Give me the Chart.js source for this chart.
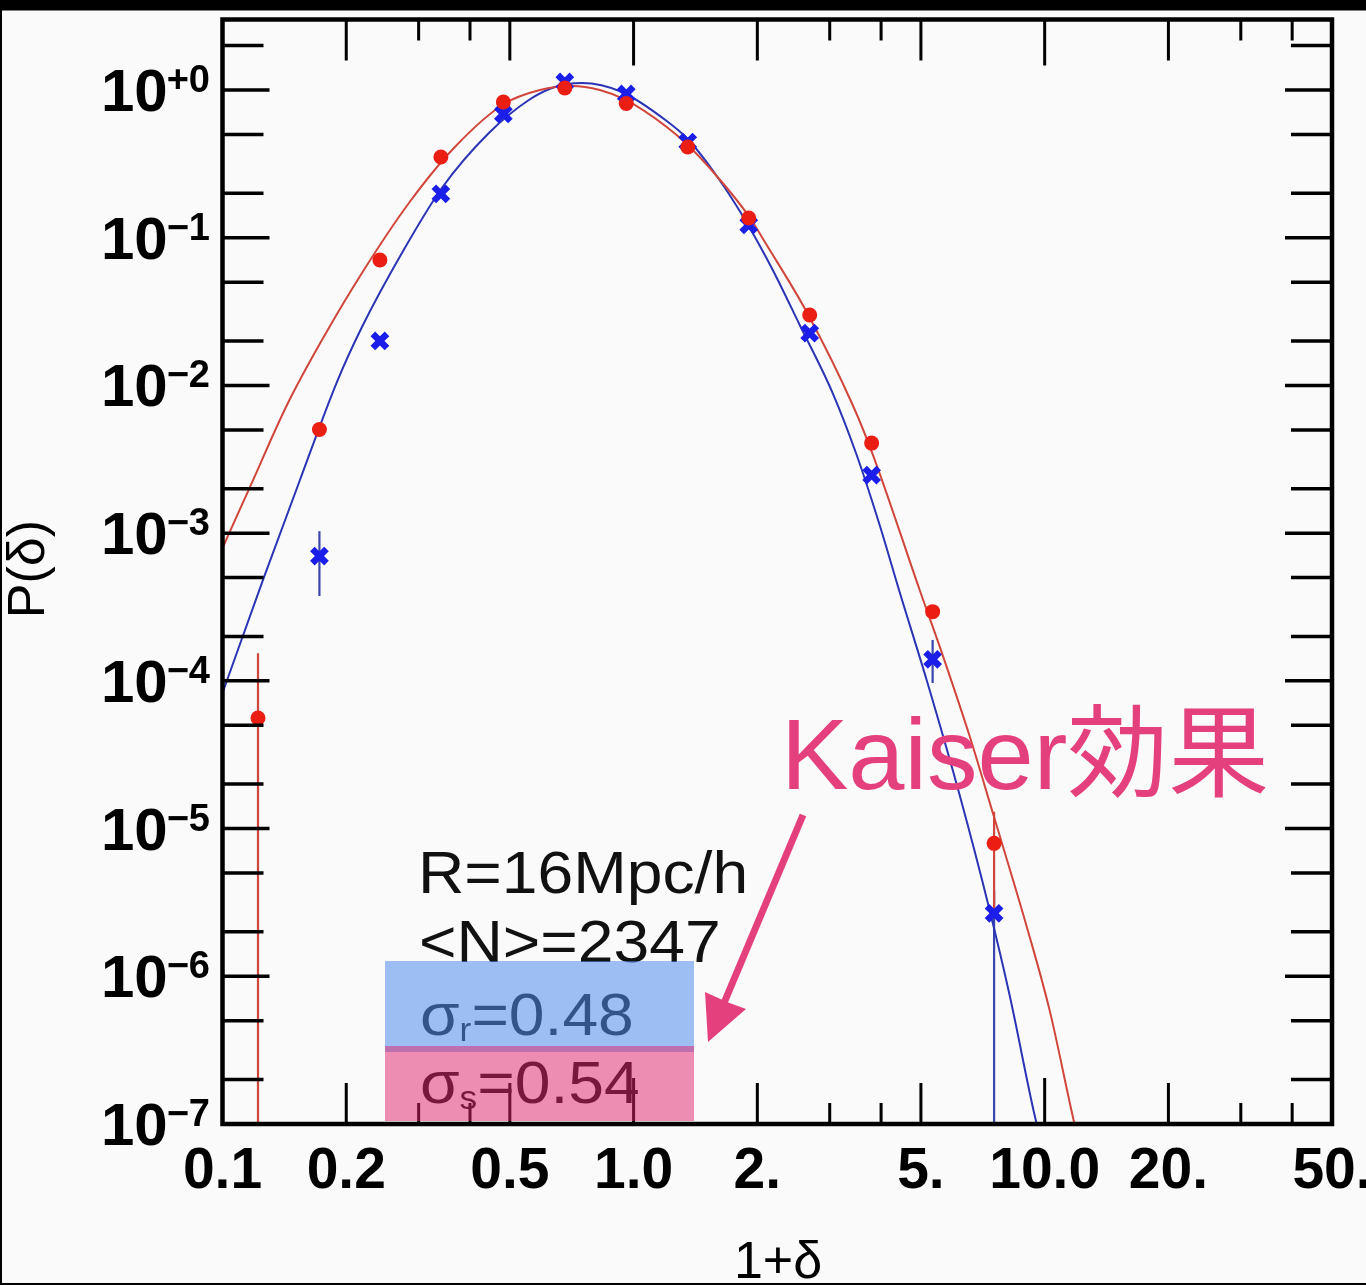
<!DOCTYPE html>
<html><head><meta charset="utf-8">
<script src="https://cdn.jsdelivr.net/npm/chart.js@4.4.1/dist/chart.umd.min.js"></script>
<style>html,body{margin:0;padding:0;background:#fafafa;overflow:hidden}canvas{display:block}</style>
</head><body>
<canvas id="c" width="1366" height="1285"></canvas>
<script>
// ---- data ----
const binX = [0.1220, 0.1721, 0.2415, 0.3398, 0.4822, 0.6803, 0.9599, 1.3545, 1.906, 2.682, 3.794, 5.339, 7.533];
const redP  = [5.60e-5, 5.03e-3, 0.0706, 0.352, 0.829, 1.032, 0.810, 0.411, 0.1359, 0.0300, 4.07e-3, 2.94e-4, 7.94e-6];
const blueP = [null, 7.00e-4, 0.0200, 0.198, 0.688, 1.133, 0.940, 0.4445, 0.1219, 0.0226, 2.47e-3, 1.40e-4, 2.67e-6];
// error bars (0 = extends down to zero)
const redErrLow   = [0, null, null, null, null, null, null, null, null, null, null, null, 2.68e-6];
const redErrHigh  = [1.54e-4, null, null, null, null, null, null, null, null, null, null, null, 1.30e-5];
const blueErrLow  = [null, 3.75e-4, null, null, null, null, null, null, null, null, null, 9.66e-5, 0];
const blueErrHigh = [null, 1.03e-3, null, null, null, null, null, null, null, null, null, 1.89e-4, 3.83e-6];

const redCurveX = [0.1, 0.1166, 0.1435, 0.1746, 0.2184, 0.2841, 0.3675, 0.4836, 0.5916, 0.7075, 0.8277, 0.9573, 1.204, 1.354, 1.593, 1.906, 2.108, 2.637, 3.412, 3.815, 4.965, 5.647, 6.568, 7.469, 9.035, 10.28, 11.82, 12.16];
const redCurveP = [7.93e-4, 2.05e-3, 7.37e-3, 2.03e-2, 5.77e-2, 0.1718, 0.4113, 0.8037, 1.0, 1.064, 1.0, 0.8557, 0.5617, 0.4243, 0.2617, 0.1402, 0.08924, 0.0314, 7.37e-3, 3.43e-3, 4.12e-4, 1.495e-4, 4.23e-5, 1.293e-5, 2.19e-6, 5.90e-7, 1.0e-7, 7.3e-8];
const blueCurveX = [0.1, 0.1254, 0.1543, 0.1898, 0.2184, 0.2732, 0.3417, 0.4446, 0.5562, 0.6433, 0.7482, 0.9361, 1.204, 1.354, 1.593, 1.843, 2.168, 2.536, 3.050, 3.489, 3.968, 4.438, 5.163, 6.211, 7.345, 8.216, 9.450, 9.719];
const blueCurveP = [8.27e-5, 4.81e-4, 2.29e-3, 1.054e-2, 2.485e-2, 0.07876, 0.2170, 0.5114, 0.8557, 1.048, 1.115, 0.9693, 0.6167, 0.4659, 0.2617, 0.1402, 0.06236, 0.02564, 8.88e-3, 3.38e-3, 1.135e-3, 3.99e-4, 1.013e-4, 1.686e-5, 2.81e-6, 7.46e-7, 1.149e-7, 8.4e-8];

// axes
const xTickValues = [0.1, 0.2, 0.3, 0.4, 0.5, 1, 2, 3, 4, 5, 10, 20, 30, 40, 50];
const xLabelValues = [0.1, 0.2, 0.5, 1, 2, 5, 10, 20, 50];
const xLabels = ['0.1', '0.2', '0.5', '1.0', '2.', '5.', '10.0', '20.', '50.'];
const yLabelValues = [1, 1e-1, 1e-2, 1e-3, 1e-4, 1e-5, 1e-6, 1e-7];
const yExpLabels = ['+0', '\u22121', '\u22122', '\u22123', '\u22124', '\u22125', '\u22126', '\u22127'];
const xTitle = '1+\u03b4';
const yTitle = 'P(\u03b4)';
const infoLines = ['R=16Mpc/h', '<N>=2347'];
const sigmaR = ['\u03c3', 'r', '=0.48'];
const sigmaS = ['\u03c3', 's', '=0.54'];
const noteText = 'Kaiser\u52b9\u679c';

const pts = (xs, ys) => xs.map((x, i) => ({x, y: ys[i]})).filter(p => p.y !== null);

const FONT = '"Liberation Sans", Arial, Helvetica, sans-serif';

const deco = {
  id: 'deco',
  beforeDraw(chart) {
    const ctx = chart.ctx;
    ctx.save();
    ctx.fillStyle = '#fafafa';
    ctx.fillRect(0, 0, chart.width, chart.height);
    ctx.restore();
  },
  beforeDatasetsDraw(chart) {
    const {ctx, chartArea: a, scales: {x, y}} = chart;
    ctx.save();
    ctx.beginPath(); ctx.rect(a.left, a.top, a.right - a.left, a.bottom - a.top); ctx.clip();
    const bars = (lo, hi, color, w) => {
      ctx.strokeStyle = color; ctx.lineWidth = w;
      for (let i = 0; i < binX.length; i++) {
        if (lo[i] === null || hi[i] === null) continue;
        const px = x.getPixelForValue(binX[i]);
        const y1 = y.getPixelForValue(hi[i]);
        const y2 = lo[i] === 0 ? a.bottom : y.getPixelForValue(lo[i]);
        ctx.beginPath(); ctx.moveTo(px, y1); ctx.lineTo(px, y2); ctx.stroke();
      }
    };
    bars(blueErrLow, blueErrHigh, '#3a45b0', 2.2);
    bars(redErrLow, redErrHigh, '#d0463a', 2.2);
    ctx.restore();
  },
  afterDraw(chart) {
    const {ctx, chartArea: a, scales: {x, y}} = chart;
    ctx.save();
    // ticks
    ctx.strokeStyle = '#000'; ctx.lineCap = 'butt';
    ctx.lineWidth = 3.5;
    for (let e = -7; e <= 0; e++) {
      [1, 2, 5].forEach(m => {
        const v = m * Math.pow(10, e);
        if (v > 3.0001) return;
        const py = y.getPixelForValue(v);
        const len = m === 1 ? 47 : 41;
        ctx.beginPath();
        ctx.moveTo(a.left, py); ctx.lineTo(a.left + len, py);
        ctx.moveTo(a.right, py); ctx.lineTo(a.right - len, py);
        ctx.stroke();
      });
    }
    ctx.lineWidth = 3;
    xTickValues.forEach(v => {
      const px = x.getPixelForValue(v);
      const d = Math.round(Math.log10(v) * 1000) / 1000;
      const mant = v / Math.pow(10, Math.floor(d + 1e-9));
      let len = 41;
      if (Math.abs(mant - 1) < 1e-6) len = 46;
      else if (Math.abs(mant - 3) < 1e-6 || Math.abs(mant - 4) < 1e-6) len = 21;
      ctx.beginPath();
      ctx.moveTo(px, a.bottom); ctx.lineTo(px, a.bottom - len);
      ctx.moveTo(px, a.top); ctx.lineTo(px, a.top + len);
      ctx.stroke();
    });
    // frame
    ctx.lineWidth = 4.5;
    ctx.strokeRect(a.left, a.top, a.right - a.left, a.bottom - a.top);

    // y labels
    ctx.fillStyle = '#000';
    ctx.textBaseline = 'alphabetic';
    ctx.textAlign = 'left';
    yLabelValues.forEach((v, i) => {
      const py = y.getPixelForValue(v);
      ctx.font = 'bold 38px ' + FONT;
      const sw = ctx.measureText(yExpLabels[i]).width;
      const sx = 210 - sw;
      ctx.fillText(yExpLabels[i], sx, py + 2);
      ctx.font = 'bold 60px ' + FONT;
      const bw = ctx.measureText('10').width;
      ctx.fillText('10', sx - bw + 1, py + 21);
    });
    // x labels
    ctx.font = 'bold 57px ' + FONT;
    ctx.textAlign = 'center';
    xLabelValues.forEach((v, i) => {
      ctx.fillText(xLabels[i], x.getPixelForValue(v), a.bottom + 64);
    });
    // axis titles
    ctx.font = '52px ' + FONT;
    ctx.fillText(xTitle, 778, 1278);
    ctx.save();
    ctx.translate(44, 569);
    ctx.rotate(-Math.PI / 2);
    ctx.fillText(yTitle, 0, 0);
    ctx.restore();

    // annotation text (slightly stretched horizontally)
    const SX = 1.07;
    const stretched = (parts, x0, base) => {
      ctx.save();
      ctx.translate(x0, base);
      ctx.scale(SX, 1);
      ctx.textAlign = 'left';
      let cx = 0;
      parts.forEach(p => {
        ctx.font = (p.size || 60) + 'px ' + FONT;
        ctx.fillText(p.t, cx, p.dy || 0);
        cx += ctx.measureText(p.t).width + (p.gap || 0);
      });
      ctx.restore();
    };
    ctx.fillStyle = '#111';
    stretched([{t: infoLines[0]}], 418, 893);
    stretched([{t: infoLines[1]}], 419, 962);
    stretched([{t: sigmaR[0], size: 60}, {t: sigmaR[1], size: 33, dy: 6}, {t: sigmaR[2]}], 420, 1035);
    stretched([{t: sigmaS[0], size: 60}, {t: sigmaS[1], size: 33, dy: 6}, {t: sigmaS[2]}], 420, 1103);

    // translucent highlight boxes
    ctx.fillStyle = 'rgba(80,140,235,0.55)';
    ctx.fillRect(385, 961, 309, 91);
    ctx.fillStyle = 'rgba(223,31,103,0.5)';
    ctx.fillRect(385, 1046, 309, 75);

    // Kaiser note + arrow
    const pink = '#e5407e';
    ctx.fillStyle = pink;
    ctx.textAlign = 'left';
    ctx.font = '101px "Liberation Sans", "Noto Sans CJK JP", sans-serif';
    ctx.fillText(noteText, 781, 789);
    ctx.strokeStyle = pink; ctx.lineWidth = 7; ctx.lineCap = 'butt';
    ctx.beginPath(); ctx.moveTo(803, 815); ctx.lineTo(724, 1003); ctx.stroke();
    ctx.beginPath();
    ctx.moveTo(708, 1042); ctx.lineTo(746, 1009); ctx.lineTo(727, 1002); ctx.lineTo(705, 992);
    ctx.closePath(); ctx.fill();

    // black borders of the frame grab
    ctx.fillStyle = '#000';
    ctx.fillRect(0, 0, chart.width, 10.5);
    ctx.fillRect(0, 0, 2, chart.height);
    ctx.fillRect(0, chart.height - 2, chart.width, 2);
    ctx.restore();
  }
};

new Chart(document.getElementById('c'), {
  type: 'scatter',
  data: {
    datasets: [
      {label: 'redshift space', data: pts(binX, redP), pointStyle: 'circle', pointRadius: 7.5,
       backgroundColor: '#eb1e14', borderWidth: 0, showLine: false, order: 0},
      {label: 'real space', data: pts(binX, blueP), pointStyle: 'crossRot', pointRadius: 10,
       borderColor: '#1a1ee8', backgroundColor: '#1a1ee8', borderWidth: 6.5, showLine: false, order: 0},
      {label: 'lognormal s', data: pts(redCurveX, redCurveP), showLine: true, pointRadius: 0,
       borderColor: '#d0463a', borderWidth: 2, cubicInterpolationMode: 'monotone', order: 1},
      {label: 'lognormal r', data: pts(blueCurveX, blueCurveP), showLine: true, pointRadius: 0,
       borderColor: '#2a34b4', borderWidth: 2, cubicInterpolationMode: 'monotone', order: 1}
    ]
  },
  options: {
    responsive: false,
    animation: false,
    devicePixelRatio: 1,
    events: [],
    layout: {padding: {left: 222.5, top: 19.5, right: 34, bottom: 161}},
    scales: {
      x: {type: 'logarithmic', min: 0.1, max: 50, display: false},
      y: {type: 'logarithmic', min: 1e-7, max: 3, display: false}
    },
    plugins: {legend: {display: false}, tooltip: {enabled: false}}
  },
  plugins: [deco]
});
</script>
</body></html>
